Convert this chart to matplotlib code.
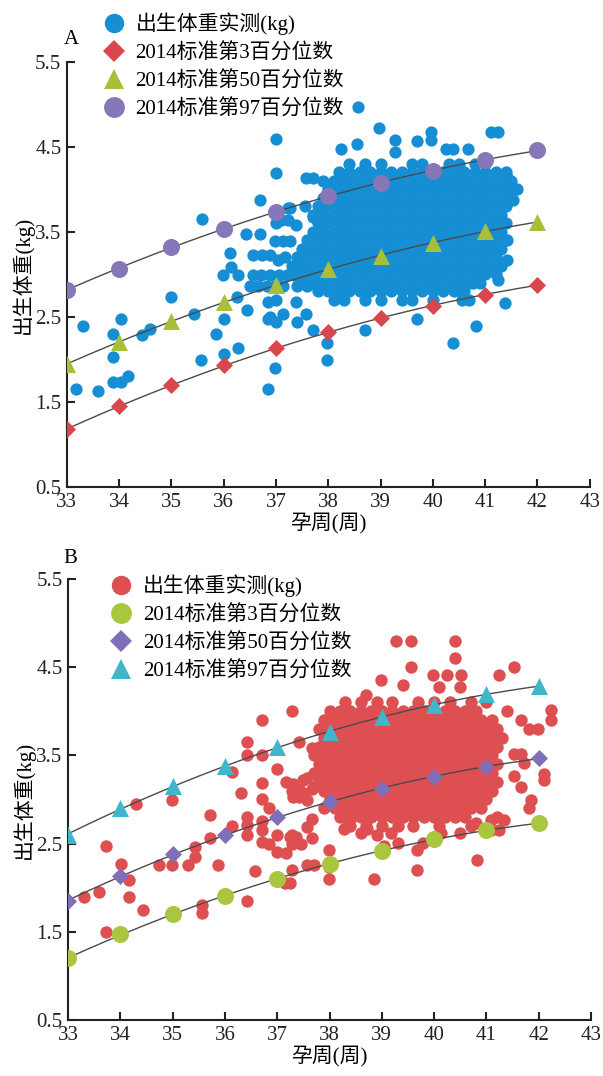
import matplotlib
matplotlib.use("Agg")
import matplotlib.pyplot as plt
from matplotlib.lines import Line2D
import numpy as np

plt.rcParams['font.family'] = ['Liberation Serif', 'Noto Sans CJK SC', 'DejaVu Sans']

weeks = [33, 34, 35, 36, 37, 38, 39, 40, 41, 42]

# panel A percentile values (2014 standard)
a_p3 = [1.18, 1.45, 1.70, 1.93, 2.13, 2.32, 2.49, 2.63, 2.76, 2.88]
a_p50 = [1.95, 2.20, 2.45, 2.68, 2.88, 3.06, 3.22, 3.37, 3.51, 3.62]
a_p97 = [2.82, 3.07, 3.32, 3.54, 3.74, 3.92, 4.08, 4.22, 4.35, 4.46]

# panel B percentile values
b_p3 = [1.20, 1.47, 1.70, 1.91, 2.10, 2.27, 2.42, 2.55, 2.65, 2.73]
b_p50 = [1.85, 2.13, 2.38, 2.60, 2.80, 2.97, 3.12, 3.26, 3.37, 3.47]
b_p97 = [2.60, 2.90, 3.15, 3.38, 3.59, 3.77, 3.93, 4.07, 4.19, 4.29]

# panel A measured birth weights: scattered points
a_x = [33.31, 33.17, 33.59, 33.89, 34.03, 33.89, 33.89, 34.03, 34.16, 34.44, 34.59, 35.0,
       35.43, 35.56, 35.86, 36.0, 36.0, 36.28, 36.44, 36.26, 36.85, 36.98, 36.85, 36.99,
       37.14, 36.85, 37.0, 37.39, 37.41, 37.0, 37.0, 36.69, 35.59, 37.57, 37.71, 38.25,
       38.54, 38.12, 36.42, 36.7, 37.23, 37.1, 37.23, 37.39, 37.0, 36.98, 37.13, 37.26,
       36.56, 36.73, 36.88, 37.03, 37.17, 36.12, 36.13, 35.99, 36.28,
       36.56, 36.72, 36.88, 37.05, 37.2, 37.35, 37.51,
       36.5, 36.66, 36.82, 36.98, 37.14, 37.4, 37.6,
       36.88, 37.57, 37.71, 37.98, 37.98,
       38.57, 38.97, 39.27, 39.27, 39.69, 39.97, 39.97, 40.26, 40.39, 40.67, 41.12, 41.25,
       40.83, 40.39, 38.7, 39.69, 41.37, 41.25, 41.53, 41.53, 41.41, 41.41, 41.41,
       40.76, 40.7, 40.55, 40.26, 37.26, 37.55, 37.71]
a_y = [2.39, 1.65, 1.63, 2.30, 2.48, 2.03, 1.74, 1.74, 1.80, 2.29, 2.36, 2.74,
       2.54, 1.99, 2.30, 2.48, 2.06, 2.14, 2.58, 2.74, 1.65, 1.90, 2.48, 2.44,
       2.54, 2.68, 2.70, 2.68, 2.44, 4.59, 4.19, 3.88, 3.65, 4.13, 4.13, 4.48,
       4.53, 4.09, 3.48, 3.48, 3.78, 3.64, 3.64, 3.58, 3.60, 3.39, 3.39, 3.39,
       3.23, 3.23, 3.23, 3.17, 3.20, 3.25, 3.09, 2.99, 2.99,
       2.99, 2.99, 2.99, 2.99, 2.99, 2.99, 2.99,
       2.86, 2.86, 2.86, 2.86, 2.86, 2.86, 2.86,
       2.50, 2.54, 2.35, 1.99, 2.19,
       4.97, 4.72, 4.58, 4.44, 4.57, 4.68, 4.58, 4.48, 4.48, 4.48, 4.68, 4.68,
       2.39, 2.19, 2.35, 2.48, 2.66, 2.94, 3.88, 4.00, 4.15, 3.17, 3.41,
       2.90, 2.70, 2.70, 2.86, 3.78, 3.80, 3.68]

# panel A dense cluster, one row of points per weight level
a_rows = [
    (4.3, [38.4, 38.7, 39.0, 39.6, 39.8, 40.3, 40.5, 40.8, 41.0]),
    (4.2, [38.2, 38.4, 38.6, 38.8, 39.0, 39.2, 39.4, 39.6, 39.8, 40.0, 40.2, 40.4, 40.6, 40.8, 41.0, 41.2, 41.4]),
    (4.1, [37.9, 38.1, 38.3, 38.5, 38.7, 38.9, 39.1, 39.3, 39.5, 39.7, 39.9, 40.1, 40.3, 40.5, 40.7, 40.9, 41.1, 41.3, 41.5]),
    (4.0, [38.0, 38.2, 38.4, 38.6, 38.8, 39.0, 39.2, 39.4, 39.6, 39.8, 40.0, 40.2, 40.4, 40.6, 40.8, 41.0, 41.2, 41.4, 41.6]),
    (3.9, [37.9, 38.1, 38.3, 38.5, 38.7, 38.9, 39.1, 39.3, 39.5, 39.7, 39.9, 40.1, 40.3, 40.5, 40.7, 40.9, 41.1, 41.3, 41.5]),
    (3.8, [37.8, 38.0, 38.2, 38.4, 38.6, 38.8, 39.0, 39.2, 39.4, 39.6, 39.8, 40.0, 40.2, 40.4, 40.6, 40.8, 41.0, 41.2, 41.4]),
    (3.7, [37.7, 37.9, 38.1, 38.3, 38.5, 38.7, 38.9, 39.1, 39.3, 39.5, 39.7, 39.9, 40.1, 40.3, 40.5, 40.7, 40.9, 41.1, 41.3]),
    (3.6, [37.8, 38.0, 38.2, 38.4, 38.6, 38.8, 39.0, 39.2, 39.4, 39.6, 39.8, 40.0, 40.2, 40.4, 40.6, 40.8, 41.0, 41.2, 41.4]),
    (3.5, [37.7, 37.9, 38.1, 38.3, 38.5, 38.7, 38.9, 39.1, 39.3, 39.5, 39.7, 39.9, 40.1, 40.3, 40.5, 40.7, 40.9, 41.1, 41.3]),
    (3.4, [37.6, 37.8, 38.0, 38.2, 38.4, 38.6, 38.8, 39.0, 39.2, 39.4, 39.6, 39.8, 40.0, 40.2, 40.4, 40.6, 40.8, 41.0, 41.2, 41.4]),
    (3.3, [37.5, 37.7, 37.9, 38.1, 38.3, 38.5, 38.7, 38.9, 39.1, 39.3, 39.5, 39.7, 39.9, 40.1, 40.3, 40.5, 40.7, 40.9, 41.1, 41.3]),
    (3.2, [37.4, 37.6, 37.8, 38.0, 38.2, 38.4, 38.6, 38.8, 39.0, 39.2, 39.4, 39.6, 39.8, 40.0, 40.2, 40.4, 40.6, 40.8, 41.0, 41.2]),
    (3.1, [37.3, 37.5, 37.7, 37.9, 38.1, 38.3, 38.5, 38.7, 38.9, 39.1, 39.3, 39.5, 39.7, 39.9, 40.1, 40.3, 40.5, 40.7, 40.9, 41.1, 41.3]),
    (3.0, [37.4, 37.6, 37.8, 38.0, 38.2, 38.4, 38.6, 38.8, 39.0, 39.2, 39.4, 39.6, 39.8, 40.0, 40.2, 40.4, 40.6, 40.8, 41.0, 41.2]),
    (2.9, [37.5, 37.7, 37.9, 38.1, 38.3, 38.5, 38.7, 38.9, 39.1, 39.3, 39.5, 39.7, 39.9, 40.1, 40.3, 40.5, 40.7, 40.9]),
    (2.8, [37.8, 38.0, 38.2, 38.4, 38.6, 38.8, 39.0, 39.2, 39.4, 39.6, 39.8, 40.0, 40.2, 40.4, 40.6]),
    (2.7, [38.1, 38.3, 38.7, 39.0, 39.4, 39.6, 40.0]),
]

# panel B measured birth weights: scattered points
b_x = [37.29, 36.71, 36.42, 36.42, 36.71, 37.41, 37.67, 37.0, 36.14, 36.3, 36.71, 36.71,
       37.16, 37.29, 37.41, 37.57, 37.41, 37.57, 37.67, 36.84,
       36.42, 36.42, 36.42, 36.71, 36.71, 37.0, 37.29, 36.84, 36.71, 37.0, 37.16, 37.29,
       37.45, 37.57, 37.67, 37.67,
       36.14, 35.71, 35.71, 35.43, 35.43, 35.29, 35.87, 34.99, 34.3, 33.73, 34.02, 34.16,
       34.16, 33.31, 33.59, 34.44, 33.73, 34.73, 34.99, 35.56, 35.56, 36.42, 36.58, 37.15,
       37.29, 37.57, 37.7,
       39.28, 39.55, 40.4, 40.4, 39.55, 38.99, 39.97, 40.25, 40.52, 41.24, 41.53, 39.4,
       40.1, 40.5, 38.69, 42.23, 42.23, 42.1, 42.1, 41.82, 41.98, 41.66, 41.4, 41.53,
       41.66, 41.72, 41.66, 41.53, 41.85, 41.82, 40.83, 41.24, 39.68, 38.85, 37.99, 37.99,
       37.99, 37.25, 37.25, 37.35, 37.5, 37.7, 37.5, 37.3, 37.3, 37.86, 38.27, 38.43,
       38.27, 38.6, 38.72, 38.9, 39.17, 39.3, 39.68, 39.78, 39.04, 40.0, 40.14, 40.5,
       40.7, 40.8, 41.2, 41.08, 41.33, 41.08]
b_y = [4.00, 3.90, 3.65, 3.50, 3.50, 3.65, 3.58, 3.35, 3.31, 3.07, 3.19, 3.00,
       3.20, 3.10, 3.12, 3.24, 3.03, 2.99, 3.12, 2.90,
       2.80, 2.71, 2.60, 2.76, 2.65, 2.60, 2.60, 2.50, 2.52, 2.41, 2.39, 2.50,
       2.50, 2.69, 2.78, 2.56,
       2.70, 2.82, 2.56, 2.46, 2.35, 2.26, 2.26, 2.99, 2.95, 2.47, 2.27, 2.09,
       1.90, 1.90, 1.95, 1.75, 1.50, 2.26, 2.26, 1.80, 1.71, 1.85, 2.19, 2.05,
       2.20, 2.26, 2.26,
       4.80, 4.80, 4.80, 4.60, 4.50, 4.35, 4.41, 4.41, 4.41, 4.41, 4.50, 4.30,
       4.27, 4.28, 4.18, 4.01, 3.90, 3.29, 3.22, 3.80, 3.80, 3.90, 4.00, 3.52,
       3.52, 3.41, 3.14, 3.27, 2.99, 2.90, 2.31, 2.65, 2.20, 2.10, 2.10, 2.24,
       2.43, 2.05, 2.58, 2.58, 3.22, 3.14, 3.07, 3.03, 3.18, 3.37, 2.80, 2.80,
       2.66, 2.62, 2.66, 2.60, 2.62, 2.51, 2.43, 2.51, 2.47, 2.58, 2.62, 2.62,
       2.70, 2.73, 2.80, 2.77, 2.77, 2.65]

# panel B dense cluster
b_rows = [
    (4.1, [38.3, 38.6, 38.9, 39.2, 39.7, 40.0, 40.3, 40.7, 41.0]),
    (4.0, [38.0, 38.2, 38.4, 38.6, 38.8, 39.0, 39.2, 39.4, 39.6, 39.8, 40.0, 40.2, 40.4, 40.6, 40.8]),
    (3.9, [37.9, 38.1, 38.3, 38.5, 38.7, 38.9, 39.1, 39.3, 39.5, 39.7, 39.9, 40.1, 40.3, 40.5, 40.7, 40.9, 41.1]),
    (3.8, [37.8, 38.0, 38.2, 38.4, 38.6, 38.8, 39.0, 39.2, 39.4, 39.6, 39.8, 40.0, 40.2, 40.4, 40.6, 40.8, 41.0, 41.2]),
    (3.7, [37.9, 38.1, 38.3, 38.5, 38.7, 38.9, 39.1, 39.3, 39.5, 39.7, 39.9, 40.1, 40.3, 40.5, 40.7, 40.9, 41.1, 41.3]),
    (3.6, [37.8, 38.0, 38.2, 38.4, 38.6, 38.8, 39.0, 39.2, 39.4, 39.6, 39.8, 40.0, 40.2, 40.4, 40.6, 40.8, 41.0, 41.2]),
    (3.5, [37.7, 37.9, 38.1, 38.3, 38.5, 38.7, 38.9, 39.1, 39.3, 39.5, 39.7, 39.9, 40.1, 40.3, 40.5, 40.7, 40.9, 41.1]),
    (3.4, [37.8, 38.0, 38.2, 38.4, 38.6, 38.8, 39.0, 39.2, 39.4, 39.6, 39.8, 40.0, 40.2, 40.4, 40.6, 40.8, 41.0, 41.2]),
    (3.3, [37.7, 37.9, 38.1, 38.3, 38.5, 38.7, 38.9, 39.1, 39.3, 39.5, 39.7, 39.9, 40.1, 40.3, 40.5, 40.7, 40.9, 41.1]),
    (3.2, [37.8, 38.0, 38.2, 38.4, 38.6, 38.8, 39.0, 39.2, 39.4, 39.6, 39.8, 40.0, 40.2, 40.4, 40.6, 40.8, 41.0, 41.2]),
    (3.1, [37.9, 38.1, 38.3, 38.5, 38.7, 38.9, 39.1, 39.3, 39.5, 39.7, 39.9, 40.1, 40.3, 40.5, 40.7, 40.9, 41.1]),
    (3.0, [38.0, 38.2, 38.4, 38.6, 38.8, 39.0, 39.2, 39.4, 39.6, 39.8, 40.0, 40.2, 40.4, 40.6, 40.8, 41.0]),
    (2.9, [37.9, 38.1, 38.3, 38.5, 38.7, 38.9, 39.1, 39.3, 39.5, 39.7, 39.9, 40.1, 40.3, 40.5, 40.7, 40.9]),
    (2.8, [38.2, 38.4, 38.6, 38.8, 39.0, 39.2, 39.4, 39.6, 39.8, 40.0, 40.2, 40.4, 40.6]),
    (2.7, [38.4, 38.7, 39.0, 39.3, 39.6, 40.1]),
]

xticks = [33, 34, 35, 36, 37, 38, 39, 40, 41, 42, 43]
yticks = [0.5, 1.5, 2.5, 3.5, 4.5, 5.5]

labels = ['出生体重实测(kg)', '2014标准第3百分位数', '2014标准第50百分位数', '2014标准第97百分位数']

blue = '#168ed4'
red_a = '#d8474b'
green_a = '#a8bf3c'
purple_a = '#8577b8'
red_b = '#de4f52'
green_b = '#a9c63f'
purple_b = '#7f6fb6'
cyan_b = '#40b5cc'

FS = 15


def flatten(rows):
    xs, ys = [], []
    for y, row in rows:
        xs += row
        ys += [y] * len(row)
    return xs, ys


def curve(ax, vals):
    c = np.polyfit(weeks, vals, 2)
    xx = np.linspace(weeks[0], weeks[-1], 200)
    ax.plot(xx, np.polyval(c, xx), color='#4a4a4a', lw=1.0, zorder=3)


def style(ax):
    ax.set_xlim(33, 43)
    ax.set_ylim(0.5, 5.5)
    ax.set_xticks(xticks)
    ax.set_yticks(yticks)
    ax.set_yticklabels([str(v) for v in yticks])
    for s in ['top', 'right']:
        ax.spines[s].set_visible(False)
    for s in ['left', 'bottom']:
        ax.spines[s].set_linewidth(1.5)
        ax.spines[s].set_color('#222222')
    ax.tick_params(direction='in', length=6, width=1.5, labelsize=FS, colors='#222222')
    ax.tick_params(axis='x', pad=4)
    ax.tick_params(axis='y', pad=4)
    ax.set_xlabel('孕周(周)', fontsize=FS, labelpad=1)
    ax.set_ylabel('出生体重(kg)', fontsize=FS, labelpad=1)


fig = plt.figure(figsize=(6.03, 10.76), dpi=100)

# ---- panel A ----
axA = fig.add_axes([0.111, 0.5474, 0.867, 0.395])
bx, by = flatten(a_rows)
axA.scatter(a_x + bx, a_y + by, s=78, color=blue, lw=0, zorder=2)
for v in [a_p3, a_p50, a_p97]:
    curve(axA, v)
axA.scatter(weeks, a_p3, marker='D', s=75, color=red_a, lw=0, zorder=4)
axA.scatter(weeks, a_p50, marker='^', s=150, color=green_a, lw=0, zorder=4)
axA.scatter(weeks, a_p97, marker='o', s=150, color=purple_a, lw=0, zorder=4)
style(axA)
fig.text(0.105, 0.959, 'A', fontsize=FS)
hA = [Line2D([], [], ls='', marker='o', ms=14, color=blue, mew=0),
      Line2D([], [], ls='', marker='D', ms=11, color=red_a, mew=0),
      Line2D([], [], ls='', marker='^', ms=15, color=green_a, mew=0),
      Line2D([], [], ls='', marker='o', ms=15, color=purple_a, mew=0)]
fig.legend(hA, labels, loc='upper left', bbox_to_anchor=(0.152, 0.998), frameon=False,
           fontsize=FS, handlelength=1.1, handletextpad=0.5, labelspacing=0.38, borderpad=0)

# ---- panel B ----
axB = fig.add_axes([0.113, 0.052, 0.867, 0.41])
bx, by = flatten(b_rows)
axB.scatter(b_x + bx, b_y + by, s=80, color=red_b, lw=0, zorder=2)
for v in [b_p3, b_p50, b_p97]:
    curve(axB, v)
axB.scatter(weeks, b_p3, marker='o', s=150, color=green_b, lw=0, zorder=4)
axB.scatter(weeks, b_p50, marker='D', s=75, color=purple_b, lw=0, zorder=4)
axB.scatter(weeks, b_p97, marker='^', s=150, color=cyan_b, lw=0, zorder=4)
style(axB)
fig.text(0.105, 0.477, 'B', fontsize=FS)
hB = [Line2D([], [], ls='', marker='o', ms=14, color=red_b, mew=0),
      Line2D([], [], ls='', marker='o', ms=15, color=green_b, mew=0),
      Line2D([], [], ls='', marker='D', ms=11, color=purple_b, mew=0),
      Line2D([], [], ls='', marker='^', ms=15, color=cyan_b, mew=0)]
fig.legend(hB, labels, loc='upper left', bbox_to_anchor=(0.165, 0.4755), frameon=False,
           fontsize=FS, handlelength=1.1, handletextpad=0.5, labelspacing=0.38, borderpad=0)

fig.savefig('out.png', dpi=100)
